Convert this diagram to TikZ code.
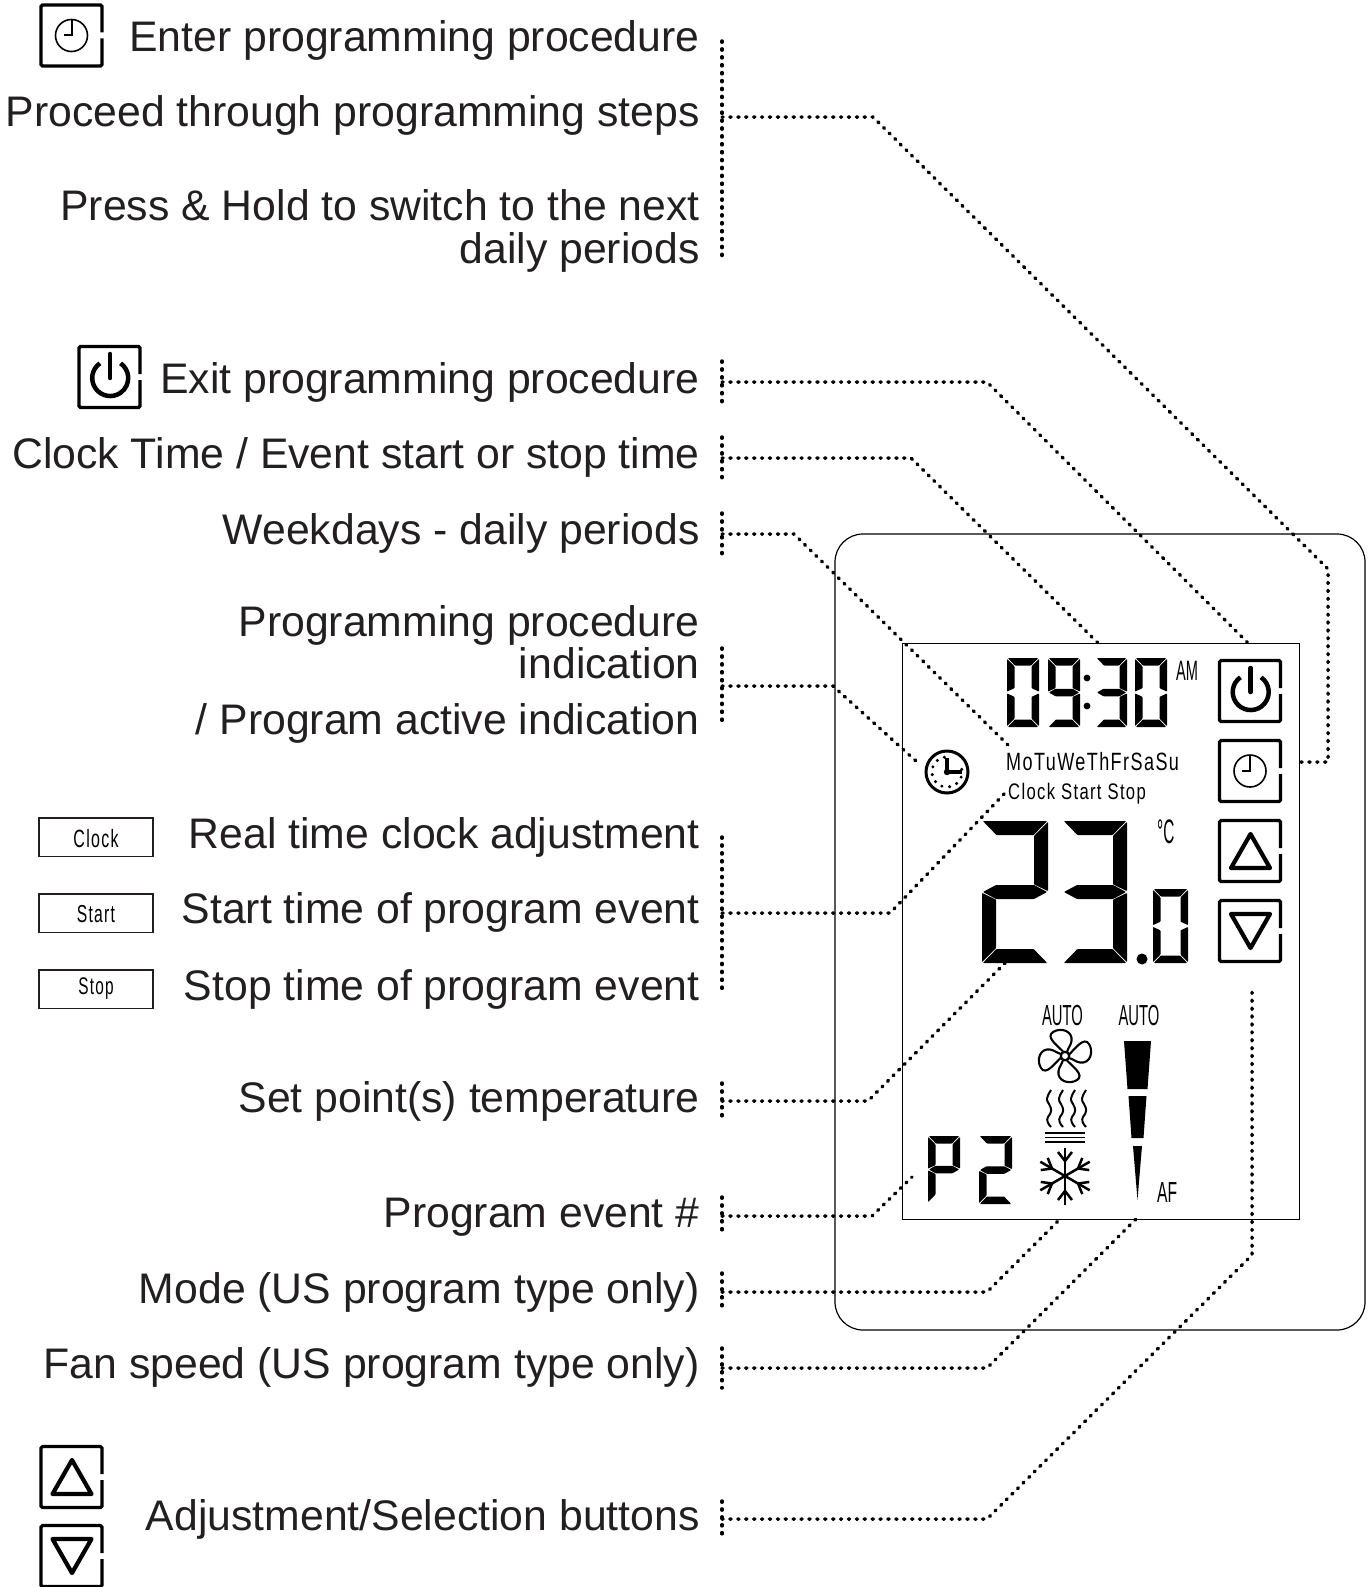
\documentclass[tikz,border=0pt]{standalone}
\usepackage{fontspec}
\usepackage{graphicx}
\setmainfont{Liberation Sans}
\newfontfamily\lcdfont[LetterSpace=8]{Liberation Sans}
\definecolor{ink}{HTML}{231F20}
\newcommand\Seg[1]{\path[fill=black,rounded corners=.7pt] #1 -- cycle;}
\newcommand\sega{\Seg{(.8,0) -- (\Dw-.8,0) -- (\Dw-\Dt-.4,\Dt) -- (\Dt+.4,\Dt)}}
\newcommand\segb{\Seg{(\Dw,.9) -- (\Dw,\Dh/2-.9) -- (\Dw-\Dt,\Dh/2-\Dt/2-.6) -- (\Dw-\Dt,\Dt+.9)}}
\newcommand\segc{\Seg{(\Dw,\Dh/2+.9) -- (\Dw,\Dh-.9) -- (\Dw-\Dt,\Dh-\Dt-.9) -- (\Dw-\Dt,\Dh/2+\Dt/2+.6)}}
\newcommand\segd{\Seg{(.8,\Dh) -- (\Dw-.8,\Dh) -- (\Dw-\Dt-.4,\Dh-\Dt) -- (\Dt+.4,\Dh-\Dt)}}
\newcommand\sege{\Seg{(0,\Dh/2+.9) -- (0,\Dh-.9) -- (\Dt,\Dh-\Dt-.9) -- (\Dt,\Dh/2+\Dt/2+.6)}}
\newcommand\segf{\Seg{(0,.9) -- (0,\Dh/2-.9) -- (\Dt,\Dh/2-\Dt/2-.6) -- (\Dt,\Dt+.9)}}
\newcommand\segg{\Seg{(.9,\Dh/2) -- (\Dt,\Dh/2-\Dt/2) -- (\Dw-\Dt,\Dh/2-\Dt/2) -- (\Dw-.9,\Dh/2) -- (\Dw-\Dt,\Dh/2+\Dt/2) -- (\Dt,\Dh/2+\Dt/2)}}
\newcommand\sevenseg[6]{\begin{scope}[shift={(#1,#2)}]\def\Dw{#3}\def\Dh{#4}\def\Dt{#5}\foreach \segname in {#6}{\csname seg\segname\endcsname}\end{scope}}
\newcommand\condensed[2]{\scalebox{#1}[1]{#2}}
\tikzset{
  lbl/.style={anchor=base east,inner sep=0pt,text=ink,font=\fontsize{42.75}{42}\selectfont,align=right},
  tiny/.style={anchor=base,inner sep=0pt,text=black},
  leader/.style={line width=3.5pt,line cap=round,dash pattern=on 1.2pt off 6.7pt,draw=black},
  frame/.pic={\draw[line width=3.2pt,rounded corners=1.5pt] (62.5,29) |- (1.5,1.5) |- (62.5,62.5) -- (62.5,35);},
  btnpower/.pic={\pic{frame};
    \draw[line width=4.5pt] (22.4,18.3) arc[start angle=125,end angle=415,x radius=18,y radius=-18];
    \draw[line width=4.5pt,line cap=round] (32.7,9) -- (32.7,33);},
  btnclock/.pic={\pic{frame};
    \draw[line width=1.6pt] (32,32) circle[radius=16];
    \draw[line width=2pt] (32,16) -- (32,32) -- (24,32);},
  btnup/.pic={\pic{frame};
    \draw[line width=4.2pt,line join=round] (32.5,15) -- (52,49) -- (13,49) -- cycle;},
  btndown/.pic={\pic{frame};
    \draw[line width=4.2pt,line join=round] (32.5,49) -- (52,15) -- (13,15) -- cycle;},
}
\begin{document}
\begin{tikzpicture}[x=1pt,y=-1pt]
\useasboundingbox (0,0) rectangle (1370,1587);
% housing
\draw[line width=1.2pt,rounded corners=28pt] (835,534) rectangle (1365,1330);
\draw[line width=1pt] (902,643) rectangle (1299,1219);

% left labels
\node[lbl] (l1) at (699.8,51.8) {Enter programming procedure};
\node[lbl] (l2) at (699.8,126.8) {Proceed through programming steps};
\node[lbl] (l3a) at (699.8,220.3) {Press \& Hold to switch to the next};
\node[lbl] (l3b) at (699.8,263.3) {daily periods};
\node[lbl] (l4) at (699.8,393) {Exit programming procedure};
\node[lbl] (l5) at (699.8,468.8) {Clock Time / Event start or stop time};
\node[lbl] (l6) at (699.8,544.8) {Weekdays - daily periods};
\node[lbl] (l7a) at (699.8,636.8) {Programming procedure};
\node[lbl] (l7b) at (699.8,678.8) {indication};
\node[lbl] (l7c) at (699.8,734) {/ Program active indication};
\node[lbl] (l8) at (699.8,848) {Real time clock adjustment};
\node[lbl] (l9) at (699.8,923) {Start time of program event};
\node[lbl] (l10) at (699.8,1000) {Stop time of program event};
\node[lbl] (l11) at (699.8,1112.5) {Set point(s) temperature};
\node[lbl] (l12) at (699.8,1227) {Program event \#};
\node[lbl] (l13) at (699.8,1303) {Mode (US program type only)};
\node[lbl] (l14) at (699.8,1378) {Fan speed (US program type only)};
\node[lbl] (l15) at (699.8,1530) {Adjustment/Selection buttons};

% left icons
\pic at (39.5,3.5) {btnclock};
\pic at (77.5,345) {btnpower};
\pic at (39.5,1445) {btnup};
\pic at (39.5,1524) {btndown};
\foreach \nm/\yy/\off/\fs/\tx in {bclock/818/29/25/Clock,bstart/894/28/24.5/Start,bstop/970/24/24/Stop}{
  \draw[line width=1.1pt,draw=ink] (39,\yy) rectangle (153,\yy+38.5);
  \node[tiny,font=\lcdfont\fontsize{\fs}{\fs}\selectfont] (\nm) at (96,\yy+\off) {\condensed{.64}{\tx}};
}

% display buttons
\pic at (1218,659) {btnpower};
\pic at (1218,739) {btnclock};
\pic at (1218,819) {btnup};
\pic at (1218,899) {btndown};

% time
\sevenseg{1007}{658}{32}{69}{7.5}{a,b,c,d,e,f}
\sevenseg{1048}{658}{32}{69}{7.5}{a,b,c,d,f,g}
\fill (1087,678) circle[radius=3.4] (1087,706) circle[radius=3.4];
\sevenseg{1096}{658}{31}{69}{7.5}{a,b,c,d,g}
\sevenseg{1135}{658}{32}{69}{7.5}{a,b,c,d,e,f}
\node[tiny,font=\fontsize{28}{28}\selectfont,anchor=base west] (am) at (1176,680) {\condensed{.52}{AM}};
\node[tiny,font=\lcdfont\fontsize{25}{25}\selectfont,anchor=base west] (days) at (1006,770) {\condensed{.72}{MoTuWeThFrSaSu}};
\node[tiny,font=\lcdfont\fontsize{22.5}{22.5}\selectfont,anchor=base west] (modes) at (1008,799) {\condensed{.74}{Clock Start Stop}};
\node[tiny,font=\fontsize{34}{34}\selectfont,anchor=base west] (deg) at (1157,843) {\condensed{.45}{°C}};

% clock indicator
\begin{scope}[shift={(947,772)}]
  \draw[line width=3pt] (0,0) circle[radius=21];
  \draw[line width=3.2pt] (0,-14) -- (0,0) -- (15,0);
  \fill (0,0) circle[radius=3.2];
  \foreach \a in {-10,20,50,80,110,140,170,200,230,260}{\fill (\a:15) circle[radius=1.7];}
\end{scope}

% temperature
\sevenseg{982}{821}{66}{142}{14}{a,b,g,e,d}
\sevenseg{1063}{821}{64}{142}{14}{a,b,c,d,g}
\fill (1142,959) circle[radius=5.5];
\sevenseg{1153}{889}{35}{74}{7.5}{a,b,c,d,e,f}

% P2
\sevenseg{928}{1136}{32}{67}{7.5}{a,b,e,f,g}
\sevenseg{979}{1136}{33}{68}{7.5}{a,b,g,e,d}

% AUTO / AF
\node[tiny,font=\fontsize{29}{29}\selectfont] (auto1) at (1062.5,1025) {\condensed{.51}{AUTO}};
\node[tiny,font=\fontsize{29}{29}\selectfont] (auto2) at (1139,1025) {\condensed{.51}{AUTO}};
\node[tiny,font=\fontsize{29}{29}\selectfont,anchor=base west] (af) at (1157,1202) {\condensed{.54}{AF}};

% fan
\begin{scope}[shift={(1065,1056)}]
  \draw[line width=2.1pt] (0,0) circle[radius=4.2];
  \foreach \a in {0,90,180,270}{
    \draw[line width=2.1pt,rotate=\a,line join=round] (-1.5,-4) .. controls (-7,-10) and (-20,-19) .. (-12,-24) .. controls (-4,-29) and (8,-25) .. (6.5,-15) .. controls (6,-11) and (3,-8) .. (2,-4);
  }
\end{scope}

% heat waves
\foreach \xx in {1049,1061,1073,1084}{
  \draw[line width=2pt] (\xx+2,1090) .. controls (\xx-3,1098) and (\xx-3,1100) .. (\xx,1104) .. controls (\xx+3,1109) and (\xx+3,1112) .. (\xx-1,1117) .. controls (\xx-3,1120) and (\xx-1,1124) .. (\xx+2,1127);
}
\foreach \yy in {1133,1137.5,1142}{\draw[line width=1.2pt] (1045,\yy) -- (1085,\yy);}

% snowflake
\begin{scope}[shift={(1065,1176)}]
  \foreach \a in {90,150,210,270,330,30}{
    \begin{scope}[rotate=\a]
      \draw[line width=2.5pt] (0,0) -- (28.5,0);
      \draw[line width=2.5pt] (15,0) -- (24,7) (15,0) -- (24,-7);
    \end{scope}
  }
\end{scope}

% fan-speed wedge
\fill (1124,1041) -- (1151,1041) -- (1147.5,1089) -- (1127.5,1089) -- cycle;
\fill (1128.5,1096) -- (1146.5,1096) -- (1143.5,1138) -- (1131.5,1138) -- cycle;
\fill (1133,1146) -- (1142,1146) -- (1137.5,1200) -- cycle;

% connector way-points
\foreach \nm/\yt/\ym/\yb in {a/41/117/262,b/361/382/403,c/437/458/478,d/513/534/555,e/648/686/721,f/837/913/992,g/1083/1101/1121,h/1197/1216/1236,i/1273/1292/1312,j/1348/1368/1388,k/1501/1519/1540}{
  \coordinate (\nm-top) at (722,\yt);
  \coordinate (\nm-mid) at (722,\ym);
  \coordinate (\nm-bot) at (722,\yb);
  \draw[leader] (\nm-top) -- (\nm-bot);
}
\coordinate (a1) at (873,117); \coordinate (a2) at (1328,569); \coordinate (a3) at (1328,762); \coordinate (a4) at (1298,762);
\coordinate (b1) at (987,382); \coordinate (b2) at (1252,647);
\coordinate (c1) at (911,458); \coordinate (c2) at (1100,645);
\coordinate (d1) at (794,534); \coordinate (d2) at (1008,745);
\coordinate (e1) at (833,686); \coordinate (e2) at (917,762);
\coordinate (f1) at (890,913); \coordinate (f2) at (1005,793);
\coordinate (g1) at (868,1101); \coordinate (g2) at (1005,963);
\coordinate (h1) at (872,1216); \coordinate (h2) at (912,1177);
\coordinate (i1) at (987,1292); \coordinate (i2) at (1062,1217);
\coordinate (j1) at (987,1368); \coordinate (j2) at (1138,1217);
\coordinate (k1) at (987,1519); \coordinate (k2) at (1252,1255); \coordinate (k3) at (1252,988);
\draw[leader] (a-mid) -- (a1) -- (a2) -- (a3) -- (a4);
\draw[leader] (b-mid) -- (b1) -- (b2);
\draw[leader] (c-mid) -- (c1) -- (c2);
\draw[leader] (d-mid) -- (d1) -- (d2);
\draw[leader] (e-mid) -- (e1) -- (e2);
\draw[leader] (f-mid) -- (f1) -- (f2);
\draw[leader] (g-mid) -- (g1) -- (g2);
\draw[leader] (h-mid) -- (h1) -- (h2);
\draw[leader] (i-mid) -- (i1) -- (i2);
\draw[leader] (j-mid) -- (j1) -- (j2);
\draw[leader] (k-mid) -- (k1) -- (k2) -- (k3);
\end{tikzpicture}
\end{document}
